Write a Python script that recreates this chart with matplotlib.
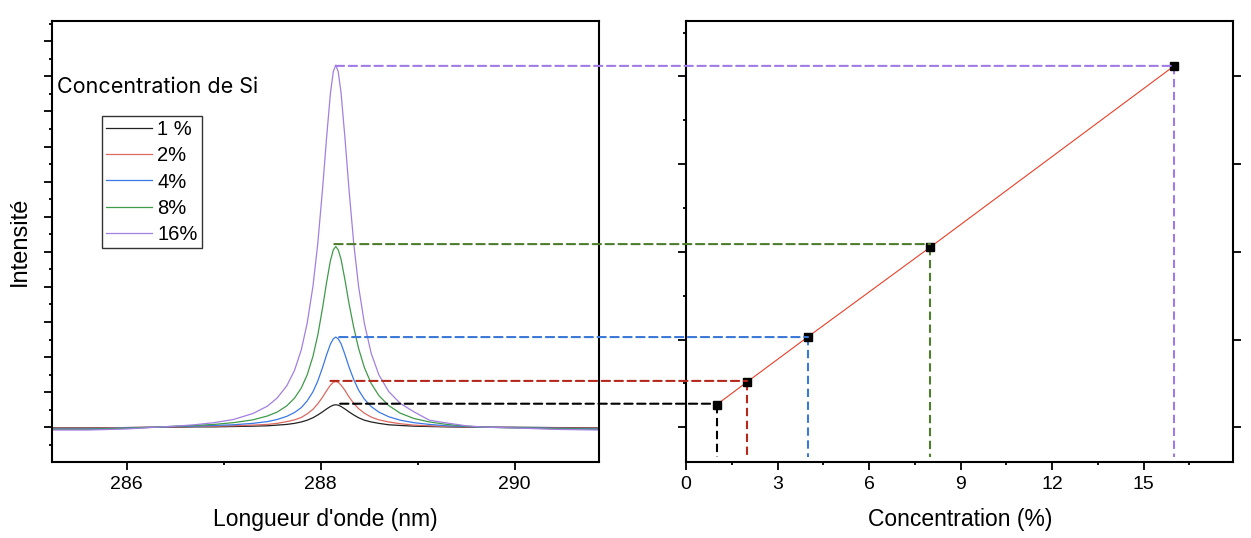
import numpy as np
import matplotlib.pyplot as plt
from matplotlib.patches import ConnectionPatch

# wavelength samples (nm)
wl = [285.23, 285.6, 286.0, 286.3, 286.5, 286.7, 286.9, 287.1, 287.3, 287.45,
      287.55, 287.65, 287.73, 287.8, 287.86, 287.92, 287.97, 288.02, 288.06, 288.10,
      288.13, 288.155, 288.18, 288.21, 288.25, 288.29, 288.34, 288.39, 288.45, 288.52,
      288.6, 288.7, 288.82, 288.96, 289.12, 289.3, 289.5, 289.7, 290.0, 290.4, 290.87]

spec_1 = [-0.02, -0.02, -0.01, 0.0, 0.0, 0.01, 0.01, 0.02, 0.03, 0.04,
          0.06, 0.08, 0.11, 0.15, 0.20, 0.27, 0.35, 0.44, 0.52, 0.59,
          0.63, 0.64, 0.63, 0.59, 0.52, 0.44, 0.35, 0.27, 0.20, 0.15,
          0.11, 0.07, 0.05, 0.03, 0.02, 0.01, 0.0, 0.0, 0.0, -0.01, -0.02]
spec_2 = [-0.03, -0.03, -0.01, 0.0, 0.01, 0.02, 0.03, 0.04, 0.06, 0.08,
          0.11, 0.16, 0.21, 0.28, 0.38, 0.51, 0.67, 0.86, 1.04, 1.20,
          1.28, 1.30, 1.28, 1.20, 1.05, 0.87, 0.68, 0.53, 0.40, 0.29,
          0.21, 0.15, 0.10, 0.06, 0.04, 0.02, 0.01, 0.0, -0.01, -0.02, -0.03]
spec_4 = [-0.05, -0.05, -0.02, 0.0, 0.02, 0.03, 0.05, 0.07, 0.11, 0.16,
          0.22, 0.31, 0.42, 0.56, 0.75, 1.01, 1.32, 1.71, 2.06, 2.37,
          2.52, 2.57, 2.52, 2.38, 2.07, 1.73, 1.36, 1.06, 0.80, 0.59,
          0.43, 0.30, 0.20, 0.13, 0.08, 0.04, 0.02, 0.0, -0.01, -0.03, -0.05]
spec_8 = [-0.06, -0.06, -0.03, 0.0, 0.03, 0.05, 0.08, 0.13, 0.21, 0.32,
          0.43, 0.61, 0.83, 1.12, 1.49, 2.02, 2.63, 3.42, 4.12, 4.75,
          5.06, 5.15, 5.06, 4.78, 4.20, 3.55, 2.85, 2.25, 1.70, 1.25,
          0.90, 0.62, 0.40, 0.25, 0.15, 0.08, 0.03, 0.0, -0.02, -0.04, -0.06]
spec_16 = [-0.08, -0.08, -0.05, 0.0, 0.03, 0.07, 0.13, 0.22, 0.39, 0.60,
           0.83, 1.18, 1.62, 2.21, 2.96, 4.02, 5.25, 6.83, 8.24, 9.52,
           10.14, 10.32, 10.14, 9.52, 8.24, 6.83, 5.25, 4.02, 2.96, 2.11,
           1.49, 1.02, 0.68, 0.44, 0.20, 0.12, 0.04, 0.0, -0.02, -0.06, -0.08]

labels = ['1 %', '2%', '4%', '8%', '16%']
conc = [1, 2, 4, 8, 16]
peak_x = [288.20, 288.10, 288.19, 288.14, 288.155]
peak_h = [0.67, 1.32, 2.57, 5.22, 10.30]
calib = [0.64, 1.29, 2.58, 5.13, 10.30]

line_cols = ['#222222', '#dc6860', '#3a78e6', '#3f9a4a', '#a27fe0']
dash_cols = ['#000000', '#b5281d', '#3c78d8', '#4e7d2e', '#a07be6']

plt.rcParams['font.family'] = ['Liberation Sans', 'DejaVu Sans']

fig = plt.figure(figsize=(12.51, 5.38), dpi=100)
ax1 = fig.add_axes([0.0416, 0.1407, 0.4373, 0.8203])
ax2 = fig.add_axes([0.5484, 0.1407, 0.4375, 0.8203])

specs = [spec_1, spec_2, spec_4, spec_8, spec_16]
for s, c, lab in zip(specs, line_cols, labels):
    ax1.plot(wl, s, color=c, lw=0.9, label=lab)

ax1.set_xlim(285.23, 290.87)
ax1.set_ylim(-1.0, 11.58)
ax2.set_xlim(0, 17.94)
ax2.set_ylim(-1.0, 11.58)

ax1.set_xticks([286, 288, 290])
ax1.set_xticks([287, 289], minor=True)
ax1.set_yticks(np.arange(0, 12, 1))
ax1.set_yticks(np.arange(-0.5, 11.6, 1), minor=True)
ax1.set_yticklabels([])
ax1.tick_params(which='major', direction='out', length=6, width=1.3, labelsize=14, pad=4)
ax1.tick_params(which='minor', direction='out', length=2.5, width=1.3)

ax2.set_xticks([0, 3, 6, 9, 12, 15])
ax2.set_xticks([1.5, 4.5, 7.5, 10.5, 13.5, 16.5], minor=True)
ax2.set_yticks([0, 2.5, 5, 7.5, 10])
ax2.set_yticks([1.25, 3.75, 6.25, 8.75, 11.25], minor=True)
ax2.set_yticklabels([])
ax2.tick_params(which='major', direction='out', length=6, width=1.3, labelsize=14, pad=4,
                right=True)
ax2.tick_params(which='minor', direction='out', length=2.5, width=1.3)

for ax in (ax1, ax2):
    for sp in ax.spines.values():
        sp.set_linewidth(1.5)

ax1.set_xlabel("Longueur d'onde (nm)", fontsize=16.5, labelpad=11)
ax1.set_ylabel('Intensité', fontsize=17, labelpad=5)
ax2.set_xlabel('Concentration (%)', fontsize=16.5, labelpad=11)

ax1.text(0.009, 0.836, 'Concentration de Si', transform=ax1.transAxes,
         fontsize=15.5, family=['Inter', 'DejaVu Sans'], va='baseline')

leg = ax1.legend(loc='upper left', bbox_to_anchor=(0.0909, 0.7847), borderaxespad=0,
                 fontsize=14.5, frameon=True, fancybox=False, edgecolor='black',
                 handlelength=2.3, handletextpad=0.25, labelspacing=0.36, borderpad=0.2)
leg.get_frame().set_linewidth(1.0)

# calibration curve
ax2.plot(conc, calib, color='#e8402a', lw=0.8, zorder=3)
ax2.plot(conc, calib, ls='none', marker='s', ms=6, color='black', zorder=4)

# dashed guides linking peaks to calibration points
for i in range(len(conc)):
    con = ConnectionPatch(xyA=(peak_x[i], peak_h[i]), coordsA=ax1.transData,
                          xyB=(conc[i], peak_h[i]), coordsB=ax2.transData,
                          color=dash_cols[i], lw=1.5, linestyle=(0, (4, 2.2)), zorder=5)
    fig.add_artist(con)
    ax2.plot([conc[i], conc[i]], [calib[i], -0.85], color=dash_cols[i], lw=1.5,
             linestyle=(0, (4, 2.2)), zorder=2)

fig.savefig('out.png', dpi=100)
